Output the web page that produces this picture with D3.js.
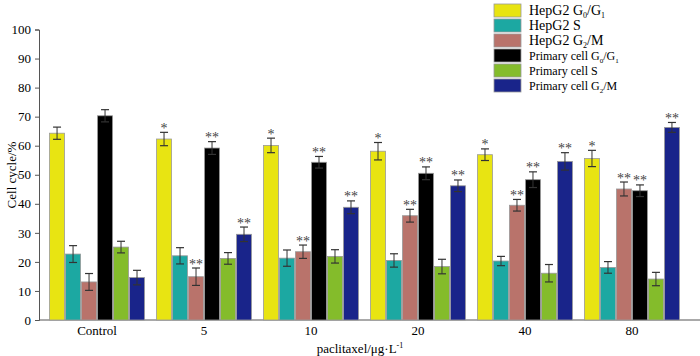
<!DOCTYPE html>
<html><head><meta charset="utf-8">
<script src="https://cdn.jsdelivr.net/npm/d3@7/dist/d3.min.js"></script>
<style>body{margin:0;background:#fff}svg{display:block}svg text{font-family:"Liberation Serif","Times New Roman",Times,serif}</style>
</head><body><svg id="c" width="700" height="356"></svg>
<script>
const categories = ["Control","5","10","20","40","80"];
const seriesNames = ["HepG2 G0/G1","HepG2 S","HepG2 G2/M","Primary cell G0/G1","Primary cell S","Primary cell G2/M"];
const colors = ["#e8e412","#1ca8a2","#b9736b","#000000","#84bc2b","#19248a"];
const hepG01 = [64.3,62.3,60.1,58.1,56.9,55.6];
const hepS   = [22.7,22.1,21.3,20.5,20.3,18.1];
const hepG2M = [13.1,14.9,23.5,35.9,39.5,45.1];
const priG01 = [70.3,59.2,54.3,50.5,48.3,44.5];
const priS   = [25.1,21.2,21.9,18.4,16.1,14.1];
const priG2M = [14.6,29.5,38.8,46.2,54.6,66.3];
const errHepG01 = [2.1,2.3,2.5,3.0,2.0,2.8];
const errHepS   = [2.9,2.8,2.8,2.3,1.6,2.0];
const errHepG2M = [2.9,3.0,2.3,2.2,2.0,2.4];
const errPriG01 = [2.1,2.2,2.0,2.2,2.7,2.0];
const errPriS   = [2.0,2.0,2.3,2.5,3.0,2.3];
const errPriG2M = [2.5,2.5,2.2,2.0,3.0,1.7];
const sigHepG01 = ["","*","*","*","*","*"];
const sigHepS   = ["","","","","",""];
const sigHepG2M = ["","**","**","**","**","**"];
const sigPriG01 = ["","**","**","**","**","**"];
const sigPriS   = ["","","","","",""];
const sigPriG2M = ["","**","**","**","**","**"];
const yTicks = [0,10,20,30,40,50,60,70,80,90,100];

const values = [hepG01,hepS,hepG2M,priG01,priS,priG2M];
const errs = [errHepG01,errHepS,errHepG2M,errPriG01,errPriS,errPriG2M];
const sigs = [sigHepG01,sigHepS,sigHepG2M,sigPriG01,sigPriS,sigPriG2M];
const FONT = "Liberation Serif";

const svg = d3.select("#c");
const x0 = d3.scaleBand().domain(categories).range([39,690]).paddingInner(0.103).paddingOuter(0.094);
const x1 = d3.scaleBand().domain(d3.range(6)).range([0,x0.bandwidth()]).padding(0);
const y = d3.scaleLinear().domain([0,100]).range([320,29.5]);

// axes
const ya = svg.append("g").attr("transform","translate(39,0)")
  .call(d3.axisLeft(y).tickValues(yTicks).tickSize(4).tickPadding(4));
ya.attr("font-family",FONT);
ya.select(".domain").attr("stroke","#555");
ya.selectAll(".tick line").attr("stroke","#555");
ya.selectAll("text").attr("font-size",13).attr("font-family",FONT).attr("fill","#000");

const xa = svg.append("g").attr("transform","translate(0,320)")
  .call(d3.axisBottom(x0).tickSize(0).tickPadding(6).tickSizeOuter(0));
xa.attr("font-family",FONT);
xa.select(".domain").remove();
xa.selectAll("text").attr("font-size",13).attr("font-family",FONT).attr("fill","#000");
svg.append("line").attr("x1",39).attr("x2",700).attr("y1",y(0)).attr("y2",y(0)).attr("stroke","#555");

// bars
const groups = svg.append("g").selectAll("g").data(categories).join("g")
  .attr("transform",d=>`translate(${x0(d)},0)`);
groups.each(function(cat,ci){
  const g = d3.select(this);
  for(let s=0;s<6;s++){
    const v = values[s][ci], e = errs[s][ci];
    const bx = x1(s), bw = x1.bandwidth();
    g.append("rect").attr("x",bx+0.5).attr("y",y(v)).attr("width",bw-1).attr("height",y(0)-y(v))
      .attr("fill",colors[s]).attr("stroke","#999").attr("stroke-width",0.8);
    const cx = bx+bw/2;
    g.append("line").attr("x1",cx).attr("x2",cx).attr("y1",y(v+e)).attr("y2",y(v-e)).attr("stroke","#333").attr("stroke-width",1);
    g.append("line").attr("x1",cx-4).attr("x2",cx+4).attr("y1",y(v+e)).attr("y2",y(v+e)).attr("stroke","#333").attr("stroke-width",1.2);
    g.append("line").attr("x1",cx-4).attr("x2",cx+4).attr("y1",y(v-e)).attr("y2",y(v-e)).attr("stroke","#333").attr("stroke-width",1.2);
    if(sigs[s][ci]){
      g.append("text").attr("x",cx).attr("y",y(v+e)+0.5).attr("text-anchor","middle")
        .attr("font-size",14).attr("font-family",FONT).attr("fill","#444").text(sigs[s][ci]);
    }
  }
});

// axis titles
svg.append("text").attr("transform","translate(16,175) rotate(-90)").attr("text-anchor","middle")
  .attr("font-size",13).attr("font-family",FONT).text("Cell cycle/%");
const xt = svg.append("text").attr("x",360).attr("y",353).attr("text-anchor","middle").attr("font-size",13).attr("font-family",FONT);
xt.append("tspan").text("paclitaxel/μg·L");
xt.append("tspan").attr("dy",-5).attr("font-size",8).text("-1");

// legend
const legendLabels = [
  [["HepG2 G",14],["0",8,"sub"],["/G",14],["1",8,"sub"]],
  [["HepG2 S",14]],
  [["HepG2 G",14],["2",8,"sub"],["/M",14]],
  [["Primary cell G",12],["0",7,"sub"],["/G",12],["1",7,"sub"]],
  [["Primary cell S",12]],
  [["Primary cell G",12],["2",7,"sub"],["/M",12]]
];
const lg = svg.append("g").attr("font-family",FONT);
legendLabels.forEach((parts,i)=>{
  const yy = 4 + i*15;
  lg.append("rect").attr("x",494).attr("y",yy).attr("width",27).attr("height",13)
    .attr("fill",colors[i]).attr("stroke","#999").attr("stroke-width",0.8);
  const t = lg.append("text").attr("x",529).attr("y",yy+11).attr("font-size",13).attr("font-family",FONT);
  let prevSub=false;
  parts.forEach(p=>{
    const ts = t.append("tspan").attr("font-size",p[1]).text(p[0]);
    if(p[2]==="sub"){ ts.attr("dy",prevSub?0:3); prevSub=true; }
    else if(prevSub){ ts.attr("dy",-3); prevSub=false; }
  });
});
</script></body></html>
